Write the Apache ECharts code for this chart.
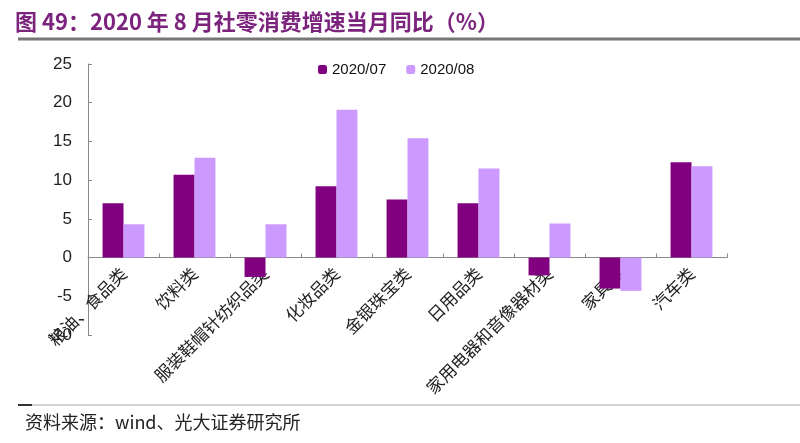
<!DOCTYPE html>
<html><head><meta charset="utf-8">
<script src="https://cdn.jsdelivr.net/npm/echarts@6/dist/echarts.min.js"></script>
<style>html,body{margin:0;padding:0;background:#fff}#c{width:800px;height:443px}</style>
</head><body><div id="c"></div>
<script>
const categories = ['粮油、食品类','饮料类','服装鞋帽针纺织品类','化妆品类','金银珠宝类','日用品类','家用电器和音像器材类','家具类','汽车类'];
const series07 = [7.0, 10.7, -2.5, 9.2, 7.5, 7.0, -2.3, -4.0, 12.3];
const series08 = [4.3, 12.9, 4.3, 19.1, 15.4, 11.5, 4.4, -4.3, 11.8];
const yTicks = [-10, -5, 0, 5, 10, 15, 20, 25];
const title = '图 49：2020 年 8 月社零消费增速当月同比（%）';
const source = '资料来源：wind、光大证券研究所';

const gridTop = 64, gridBottom = 108, H = 443;
const yMin = yTicks[0], yMax = yTicks[yTicks.length - 1];
const plotH = H - gridTop - gridBottom;
const zeroOffset = -plotH * (0 - yMin) / (yMax - yMin);

const chart = echarts.init(document.getElementById('c'));
chart.setOption({
  animation: false,
  backgroundColor: '#fff',
  title: [{
    text: title, left: 10, top: 6,
    textStyle: {fontFamily: 'Noto Sans CJK SC', fontSize: 22, fontWeight: 'bold', color: '#7B237D'}
  }, {
    text: source, left: 20, top: 408,
    textStyle: {fontFamily: 'Noto Sans CJK SC', fontSize: 18, fontWeight: 'normal', color: '#222'}
  }],
  graphic: [
    {type: 'line', shape: {x1: 18, y1: 39, x2: 800, y2: 39}, style: {stroke: '#777', lineWidth: 3}},
    {type: 'line', shape: {x1: 18, y1: 405, x2: 800, y2: 405}, style: {stroke: '#aaa', lineWidth: 1}},
    {type: 'line', shape: {x1: 18, y1: 405, x2: 32, y2: 405}, style: {stroke: '#333', lineWidth: 2}}
  ],
  legend: {
    data: ['2020/07', '2020/08'], left: 313, top: 57,
    itemWidth: 9, itemHeight: 9, itemGap: 20,
    textStyle: {fontFamily: 'Liberation Sans', fontSize: 15, color: '#111'}
  },
  grid: {left: 88, right: 73, top: gridTop, bottom: gridBottom, outerBoundsMode: 'none', containLabel: false},
  xAxis: {
    type: 'category', data: categories,
    offset: zeroOffset,
    axisLine: {onZero: false, lineStyle: {color: '#888'}},
    axisTick: {show: true, inside: true, length: 4, lineStyle: {color: '#888'}},
    axisLabel: {rotate: 45, interval: 0, margin: 13, fontFamily: 'Noto Sans CJK SC', fontSize: 17, color: '#222', hideOverlap: false}
  },
  yAxis: {
    type: 'value', min: yMin, max: yMax, interval: 5,
    splitLine: {show: false},
    axisLine: {show: true, lineStyle: {color: '#888'}},
    axisTick: {show: true, inside: true, length: 4, lineStyle: {color: '#888'}},
    axisLabel: {fontFamily: 'Liberation Sans', fontSize: 17, color: '#222', margin: 16}
  },
  series: [
    {name: '2020/07', type: 'bar', data: series07, barGap: '0%', barCategoryGap: '41%', itemStyle: {color: '#800080'}},
    {name: '2020/08', type: 'bar', data: series08, itemStyle: {color: '#CC99FF'}}
  ]
});
</script></body></html>
